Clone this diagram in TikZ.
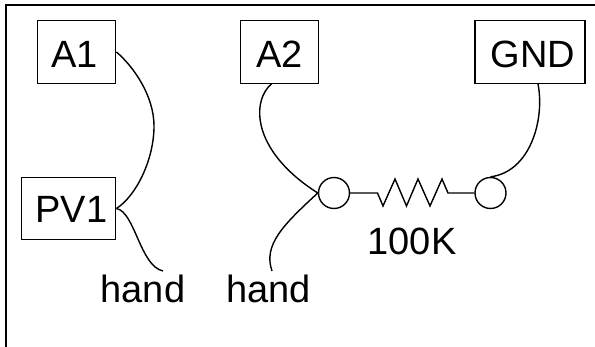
\documentclass[tikz,border=0pt]{standalone}
\usepackage{fontspec}
\setmainfont{Liberation Sans}
\usetikzlibrary{positioning}
\tikzset{
    pinbox/.style={draw, line width=1.4pt, inner sep=0pt, text height=32pt, text depth=0pt, font=\fontsize{38}{40}\selectfont},
    pinlabel/.style={inner sep=0pt, anchor=base, font=\fontsize{38}{40}\selectfont},
    terminal/.style={draw, circle, line width=1.4pt, minimum size=31pt, inner sep=0pt},
    wire/.style={line width=1.4pt}
}
\begin{document}
\begin{tikzpicture}[x=1pt, y=-1pt]
    \useasboundingbox (0, 0) rectangle (595, 347);
    \draw[line width=1.8pt] (6, 347) -- (6, 5) -- (595, 5);
    \node[pinbox, minimum width=78.5pt, minimum height=62.5pt] (a1) at (76.5, 52) {A1\hspace*{4pt}};
    \node[pinbox, minimum width=94.5pt, minimum height=62.5pt, text height=29pt] (pv1) at (68.5, 208.5) {\hspace*{6pt}PV1};
    \node[pinbox, minimum width=78.5pt, minimum height=62.5pt] (a2) at (279.5, 52) {A2};
    \node[pinbox, minimum width=110pt, minimum height=62.5pt] (gnd) at (530, 52) {\hspace*{6pt}GND};
    \node[terminal] (t1) at (334, 193) {};
    \node[terminal] (t2) at (490.5, 193) {};
    \node[pinlabel] (hand1) at (143, 303) {hand};
    \node[pinlabel] (hand2) at (268.5, 303) {hand};
    \node[pinlabel] (value) at (412, 255) {100K};
    \coordinate (h1) at (163, 271);
    \coordinate (h2) at (272, 271);
    \draw[wire] (a1.east) .. controls (135, 68) and (154, 97) .. (154, 126)
        .. controls (154, 160) and (136, 196) .. (pv1.east);
    \draw[wire] (pv1.east) .. controls (135, 212) and (140, 266) .. (h1);
    \draw[wire] (a2.south) ++(-8, 0) .. controls (252, 100) and (250, 150) .. (t1.west);
    \draw[wire] (h2) .. controls (263, 245) and (283, 225) .. (t1.west);
    \draw[wire] (gnd.south) ++(8, 0) .. controls (545, 120) and (530, 172) .. (t2.north);
    \draw[wire] (t1.east) -- (377.5, 193) -- (383, 206) -- (395, 179) -- (406.5, 206)
        -- (418, 179) -- (430, 206) -- (442, 179) -- (448, 193) -- (t2.west);
\end{tikzpicture}
\end{document}
